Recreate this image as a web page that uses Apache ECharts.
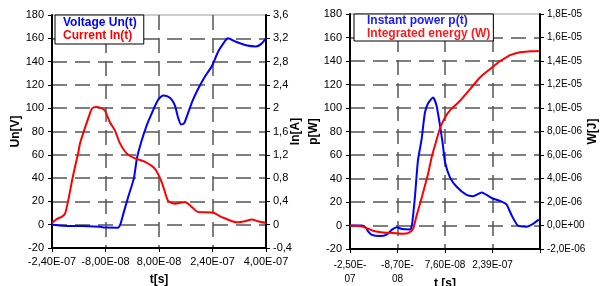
<!DOCTYPE html>
<html>
<head>
<meta charset="utf-8">
<title>Un(t) In(t) p(t) W</title>
<script src="https://cdn.jsdelivr.net/npm/echarts@6/dist/echarts.min.js"></script>
<style>
html,body{margin:0;padding:0;background:#fff;}
#main{width:601px;height:286px;}
</style>
</head>
<body>
<div id="main"></div>
<script>
// time in ns
var voltage = [[-240,0],[-207,-0.8],[-150,-1.2],[-96,-1.8],[-82,-2.5],[-43,-2.6],[-36,0],[-28,8],[-13,23],[5,40],[14,57],[28,72],[43,85],[59,96],[77,107],[92,111],[107,110],[119,107],[128,102],[137,92],[146,86],[155,87],[167,96],[180,106],[196,116],[217,127],[238,136],[256,148],[271,155],[286,160],[310,157],[340,154],[370,153],[385,155],[400,160]];
var current = [[-240,0.03],[-225,0.1],[-210,0.14],[-201,0.19],[-192,0.4],[-180,0.76],[-171,1.0],[-162,1.22],[-156,1.4],[-132,1.82],[-120,2.0],[-108,2.02],[-96,2.01],[-82,1.96],[-67,1.76],[-52,1.62],[-37,1.4],[-16,1.22],[8,1.14],[38,1.08],[68,0.96],[89,0.72],[107,0.41],[128,0.36],[158,0.39],[179,0.3],[196,0.22],[241,0.21],[268,0.13],[313,0.04],[337,0.06],[358,0.09],[376,0.06],[400,0.03]];
var power = [[-250,0],[-209,0],[-195,-2],[-188,-5],[-175,-8],[-147,-9],[-123,-7.5],[-106,-3.5],[-89,-1.5],[-72,-3],[-44,-3.4],[-37,1],[-27,25],[-17,55],[-4,74],[7,96],[18,104],[35,109],[47,102],[59,85],[69,68],[76,54],[93,41],[116,33],[150,26],[172,25],[202,28],[219,26],[240,23],[265,21],[287,18],[305,8.5],[326,0],[356,-1],[378,1.4],[398,5]];
// energy in 1E-06 J
var energy = [[-250,0],[-205,-0.1],[-171,-0.45],[-137,-0.6],[-103,-0.63],[-68,-0.7],[-51,-0.65],[-34,-0.3],[-22,0.8],[-8,2.0],[5,3.2],[18,4.4],[31,5.9],[45,7.1],[59,8.3],[76,9.2],[93,9.8],[127,10.6],[162,11.6],[196,12.6],[230,13.3],[265,14.0],[282,14.25],[299,14.5],[333,14.75],[367,14.82],[398,14.86]];

var leftXLabels = ['-2,40E-07','-8,00E-08','8,00E-08','2,40E-07','4,00E-07'];
var rightXLabels = ['-2,50E-\n07','-8,70E-\n08','7,60E-08','2,39E-07',''];
var leftT0 = -240, leftStep = 160;
var rightT0 = -250, rightStep = 163;

var font = 'Liberation Sans, Arial, sans-serif';

// shift x so the axis starts at 0
function shift(arr, t0) {
	return arr.map(function (p) { return [p[0] - t0, p[1]]; });
}
function comma(v) {
	return String(+v.toFixed(1)).replace('.', ',');
}
function sci(v) {
	if (Math.abs(v) < 1e-9) return '0,0E+00';
	var e = Math.floor(Math.log10(Math.abs(v)) + 1e-9);
	var m = v / Math.pow(10, e);
	var ex = e - 6;
	return m.toFixed(1).replace('.', ',') + 'E' + (ex < 0 ? '-' : '+') + ('0' + Math.abs(ex)).slice(-2);
}

var dash = {show: true, showMinLine: false, showMaxLine: false, lineStyle: {color: '#555', type: [15, 8], width: 1.5}};
var blackLine = {show: true, onZero: false, lineStyle: {color: '#000', width: 2}};
var tick = {show: true, length: 4, lineStyle: {color: '#000', width: 1}};
var nameStyle = {fontWeight: 'bold', fontSize: 12, color: '#000', fontFamily: font};

function legendBox(items, left, top, pad) {
	return {
		data: items, left: left, top: top, orient: 'vertical', icon: 'none',
		itemWidth: 0, itemHeight: 12, itemGap: 1, padding: pad,
		borderColor: '#000', borderWidth: 1, backgroundColor: '#fff', selectedMode: false,
		textStyle: {fontSize: 12, fontWeight: 'bold', fontFamily: font}
	};
}

var myChart = echarts.init(document.getElementById('main'));
var option = {
	animation: false,
	backgroundColor: '#fff',
	textStyle: {fontFamily: font},
	grid: [
		{left: 52, top: 15, width: 214, height: 233, show: true, borderColor: '#999', borderWidth: 1, outerBoundsMode: 'none'},
		{left: 350, top: 14, width: 190, height: 235, show: true, borderColor: '#999', borderWidth: 1, outerBoundsMode: 'none'}
	],
	legend: [
		legendBox([{name: 'Voltage Un(t)', textStyle: {color: '#0000ff'}}, {name: 'Current In(t)', textStyle: {color: '#ff0000'}}], 55, 15, [2, 7, 2, 3]),
		legendBox([{name: 'Instant power p(t)', textStyle: {color: '#1a1aff'}}, {name: 'Integrated energy (W)', textStyle: {color: '#ff1a1a'}}], 354, 14, [1, 3, 1, 8])
	],
	xAxis: [
		{
			type: 'value', gridIndex: 0, min: 0, max: 640, interval: leftStep,
			axisLine: blackLine, axisTick: tick, splitLine: dash,
			axisLabel: {margin: 8, color: '#000', fontSize: 11, fontFamily: font,
				formatter: function (v) { return leftXLabels[Math.round(v / leftStep)]; }},
			name: 't[s]', nameLocation: 'middle', nameGap: 26, nameMoveOverlap: false, nameTextStyle: nameStyle
		},
		{
			type: 'value', gridIndex: 1, min: 0, max: 4 * rightStep, interval: rightStep,
			axisLine: blackLine, axisTick: tick, splitLine: dash,
			axisLabel: {margin: 9, color: '#000', fontSize: 10, lineHeight: 14, fontFamily: font,
				formatter: function (v) { return rightXLabels[Math.round(v / rightStep)]; }},
			name: 't [s]', nameLocation: 'middle', nameGap: 29, nameMoveOverlap: false, nameTextStyle: nameStyle
		}
	],
	yAxis: [
		{
			type: 'value', gridIndex: 0, position: 'left', min: -20, max: 180, interval: 20,
			axisLine: blackLine, axisTick: tick, splitLine: dash,
			axisLabel: {margin: 8, color: '#000', fontSize: 11, fontFamily: font},
			name: 'Un[V]', nameLocation: 'middle', nameGap: 30, nameMoveOverlap: false, nameTextStyle: nameStyle
		},
		{
			type: 'value', gridIndex: 0, position: 'right', min: -0.4, max: 3.6, interval: 0.4,
			axisLine: blackLine, axisTick: tick, splitLine: {show: false},
			axisLabel: {margin: 7, color: '#000', fontSize: 11, fontFamily: font, formatter: comma},
			name: 'In[A]', nameLocation: 'middle', nameGap: 24, nameMoveOverlap: false, nameTextStyle: nameStyle
		},
		{
			type: 'value', gridIndex: 1, position: 'left', min: -20, max: 180, interval: 20,
			axisLine: blackLine, axisTick: tick, splitLine: dash,
			axisLabel: {margin: 8, color: '#000', fontSize: 11, fontFamily: font},
			name: 'p[W]', nameLocation: 'middle', nameGap: 30, nameMoveOverlap: false, nameTextStyle: nameStyle
		},
		{
			type: 'value', gridIndex: 1, position: 'right', min: -2, max: 18, interval: 2,
			axisLine: blackLine, axisTick: tick, splitLine: {show: false},
			axisLabel: {margin: 7, color: '#000', fontSize: 10, fontFamily: font, formatter: sci},
			name: 'W[J]', nameLocation: 'middle', nameGap: 47, nameMoveOverlap: false, nameTextStyle: nameStyle
		}
	],
	series: [
		{name: 'Voltage Un(t)', type: 'line', xAxisIndex: 0, yAxisIndex: 0, data: shift(voltage, leftT0),
			symbol: 'none', smooth: 0.2, lineStyle: {color: '#0000ff', width: 2}, itemStyle: {color: '#0000ff'}},
		{name: 'Current In(t)', type: 'line', xAxisIndex: 0, yAxisIndex: 1, data: shift(current, leftT0),
			symbol: 'none', smooth: 0.2, lineStyle: {color: '#ff0000', width: 2}, itemStyle: {color: '#ff0000'}},
		{name: 'Instant power p(t)', type: 'line', xAxisIndex: 1, yAxisIndex: 2, data: shift(power, rightT0),
			symbol: 'none', smooth: 0.2, lineStyle: {color: '#0000ff', width: 2}, itemStyle: {color: '#0000ff'}},
		{name: 'Integrated energy (W)', type: 'line', xAxisIndex: 1, yAxisIndex: 3, data: shift(energy, rightT0),
			symbol: 'none', smooth: 0.2, lineStyle: {color: '#ff0000', width: 2}, itemStyle: {color: '#ff0000'}}
	]
};
myChart.setOption(option);
</script>
</body>
</html>
